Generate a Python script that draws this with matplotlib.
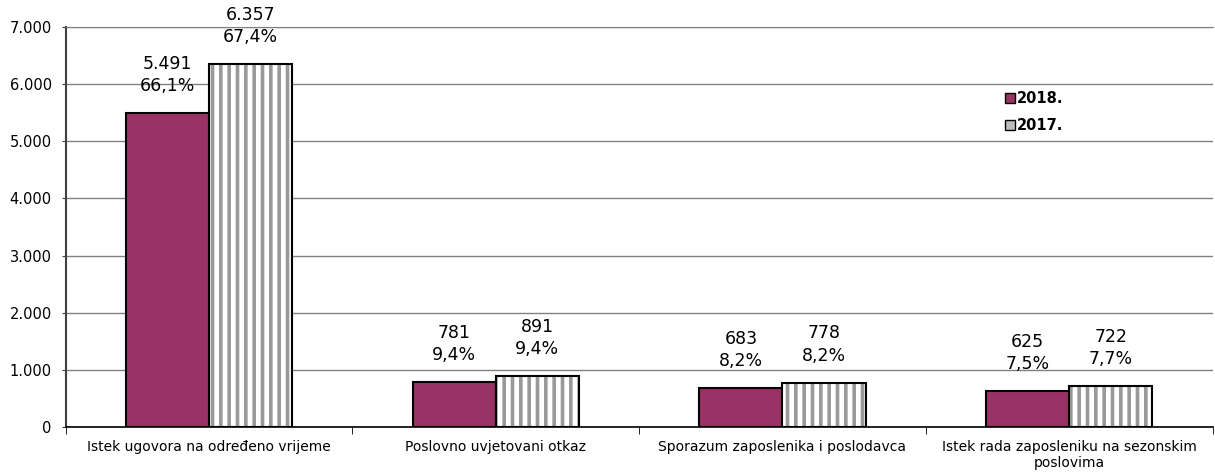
import numpy as np
import matplotlib.pyplot as plt
from matplotlib.patches import Patch
from matplotlib.ticker import FuncFormatter

categories = ['Istek ugovora na određeno vrijeme', 'Poslovno uvjetovani otkaz',
              'Sporazum zaposlenika i poslodavca',
              'Istek rada zaposleniku na sezonskim\nposlovima']
vals_2018 = [5491, 781, 683, 625]
vals_2017 = [6357, 891, 778, 722]
pct_2018 = ['66,1%', '9,4%', '8,2%', '7,5%']
pct_2017 = ['67,4%', '9,4%', '8,2%', '7,7%']

plt.rcParams['hatch.linewidth'] = 2.6

fig = plt.figure(figsize=(12.15, 4.74), dpi=100)
ax = fig.add_axes([0.054, 0.099, 0.944, 0.844])

x = np.arange(len(categories))
w = 0.29

ax.bar(x - w / 2, vals_2018, w, color='#993366', edgecolor='black', linewidth=1.5, zorder=3)
# hatched bars: stripes first, black outline on top
ax.bar(x + w / 2, vals_2017, w, color='white', edgecolor='#999999', hatch='||', linewidth=0, zorder=3)
ax.bar(x + w / 2, vals_2017, w, fill=False, edgecolor='black', linewidth=1.5, zorder=4)

def fmt(v):
    return f'{v:,}'.replace(',', '.')

for i in range(len(categories)):
    ax.annotate(fmt(vals_2018[i]) + '\n' + pct_2018[i], (x[i] - w / 2, vals_2018[i]),
                xytext=(0, 13), textcoords='offset points', ha='center', va='bottom',
                fontsize=12.5, linespacing=1.3)
    ax.annotate(fmt(vals_2017[i]) + '\n' + pct_2017[i], (x[i] + w / 2, vals_2017[i]),
                xytext=(0, 13), textcoords='offset points', ha='center', va='bottom',
                fontsize=12.5, linespacing=1.3, annotation_clip=False)

ax.set_ylim(0, 7000)
ax.set_xlim(-0.5, len(categories) - 0.5)
ax.set_yticks(range(0, 7001, 1000))
ax.yaxis.set_major_formatter(FuncFormatter(lambda v, p: fmt(int(v))))
ax.tick_params(axis='y', labelsize=10.5, length=3, pad=7, direction='out', color='#404040')
ax.set_xticks(x)
ax.set_xticklabels(categories, fontsize=10)
ax.tick_params(axis='x', which='major', length=0, pad=9)
ax.set_xticks(np.arange(-0.5, len(categories), 1.0), minor=True)
ax.tick_params(axis='x', which='minor', length=5, direction='out')

ax.grid(axis='y', color='#808080', linewidth=1, zorder=0)
ax.set_axisbelow(True)
ax.spines['right'].set_visible(False)
ax.spines['top'].set_color('#808080')
ax.spines['left'].set_color('#404040')
ax.spines['bottom'].set_color('black')
ax.spines['left'].set_linewidth(1.5)
ax.spines['bottom'].set_linewidth(1.2)

handles = [Patch(facecolor='#993366', edgecolor='black', label='2018.'),
           Patch(facecolor='#bbbbbb', edgecolor='black', label='2017.')]
leg = ax.legend(handles=handles, loc='upper left', bbox_to_anchor=(0.819, 0.84),
                frameon=False, handlelength=0.7, handleheight=0.7, handletextpad=0.15,
                labelspacing=0.85, borderpad=0, borderaxespad=0,
                prop={'weight': 'bold', 'size': 10.5})

fig.savefig('out.png', dpi=100)
